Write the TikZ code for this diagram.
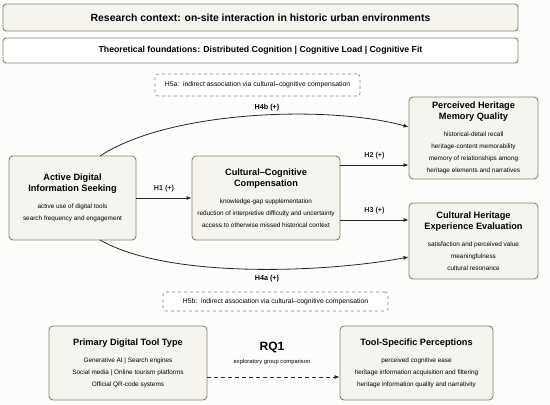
\documentclass[tikz,border=0pt]{standalone}
\usepackage{fontspec}
\setmainfont{Liberation Sans}
\usetikzlibrary{arrows.meta}

\definecolor{boxfill}{HTML}{F5F4EE}
\definecolor{boxline}{HTML}{85856A}
\definecolor{pagebg}{HTML}{FCFCFA}

\tikzset{
  card/.style={draw=boxline, line width=0.9pt, fill=boxfill, rounded corners=4pt, align=center},
  banner/.style={draw=boxline, line width=0.9pt, rounded corners=3pt, minimum width=515, align=center},
  note/.style={draw=black!50, dashed, line width=0.6pt, rounded corners=3pt, fill=white, font=\fontsize{6.8}{8}\selectfont, inner ysep=5pt, inner xsep=6pt},
  hyp/.style={font=\bfseries\fontsize{7.2}{8}\selectfont},
  link/.style={-{Latex[length=5pt,width=4pt]}, line width=0.8pt, black!85},
}
\newcommand{\ttl}[1]{{\bfseries\fontsize{9.2}{11}\selectfont #1}}
\newcommand{\sub}[1]{{\fontsize{6.4}{10}\selectfont #1}}

\begin{document}
\begin{tikzpicture}[x=1pt, y=-1pt]
	
	\fill[pagebg] (0,0) rectangle (550,405);
	\useasboundingbox (0,0) rectangle (550,405);
	
	\node[banner, fill=boxfill, minimum height=27] (context) at (260.5, 17.5)
	{\bfseries\fontsize{10.4}{12}\selectfont Research context: on-site interaction in historic urban environments};
	\node[banner, fill=white, minimum height=25] (theory) at (260.5, 50.5)
	{\bfseries\fontsize{8.7}{10}\selectfont Theoretical foundations: Distributed Cognition | Cognitive Load | Cognitive Fit};
	
	\node[note, minimum width=205, minimum height=22] (h5a) at (257.5, 85)
	{H5a:\ \ indirect association via cultural--cognitive compensation};
	
	\node[card, minimum width=127, minimum height=84] (seek) at (72.5, 198)
	{\ttl{Active Digital}\\[-1pt]\ttl{Information Seeking}\\[5pt]\sub{active use of digital tools}\\\sub{search frequency and engagement}};
	\node[card, minimum width=148, minimum height=84] (comp) at (266, 198)
	{\ttl{Cultural--Cognitive}\\[-1pt]\ttl{Compensation}\\[5pt]\sub{knowledge-gap supplementation}\\\sub{reduction of interpretive difficulty and uncertainty}\\\sub{access to otherwise missed historical context}};
	\node[card, minimum width=129, minimum height=82] (memory) at (473.5, 138)
	{\ttl{Perceived Heritage}\\[-1pt]\ttl{Memory Quality}\\[5pt]\sub{historical-detail recall}\\\sub{heritage-content memorability}\\\sub{memory of relationships among}\\\sub{heritage elements and narratives}};
	\node[card, minimum width=129, minimum height=76] (exper) at (473.5, 241)
	{\ttl{Cultural Heritage}\\[-1pt]\ttl{Experience Evaluation}\\[5pt]\sub{satisfaction and perceived value}\\\sub{meaningfulness}\\\sub{cultural resonance}};
	
	\node[note, minimum width=225, minimum height=19] (h5b) at (275.5, 301.5)
	{H5b:\ \ indirect association via cultural--cognitive compensation};
	
	\node[card, minimum width=158, minimum height=74] (tooltype) at (128, 363)
	{\ttl{Primary Digital Tool Type}\\[5pt]\sub{Generative AI | Search engines}\\\sub{Social media | Online tourism platforms}\\\sub{Official QR-code systems}};
	\node[card, minimum width=153, minimum height=74] (toolperc) at (416.5, 363)
	{\ttl{Tool-Specific Perceptions}\\[5pt]\sub{perceived cognitive ease}\\\sub{heritage information acquisition and filtering}\\\sub{heritage information quality and narrativity}};
	
	\node[font=\bfseries\fontsize{12}{13}\selectfont] (rq) at (272, 347) {RQ1};
	\node[font=\fontsize{5.8}{7}\selectfont] (rqsub) at (272, 362) {exploratory group comparison};
	
	\path[link] (seek.east) edge node[hyp, above=2pt] {H1 (+)} (comp.west);
	\path[link] (comp.east |- 0,165) edge node[hyp, above=2pt] {H2 (+)} (memory.west |- 0,165);
	\path[link] (comp.east |- 0,220) edge node[hyp, above=2pt] {H3 (+)} (exper.west |- 0,220);
	\draw[link] (100,156) .. controls (170,110) and (330,105) .. (memory.west |- 0,127);
	\draw[link] (100,240) .. controls (170,280) and (330,272) .. (exper.west |- 0,257);
	\node[hyp] (h4b) at (267, 108) {H4b (+)};
	\node[hyp] (h4a) at (267, 279) {H4a (+)};
	\draw[link, dashed, dash pattern=on 4pt off 3pt] (tooltype.east |- 0,377) -- (toolperc.west |- 0,377);
	
\end{tikzpicture}
\end{document}
